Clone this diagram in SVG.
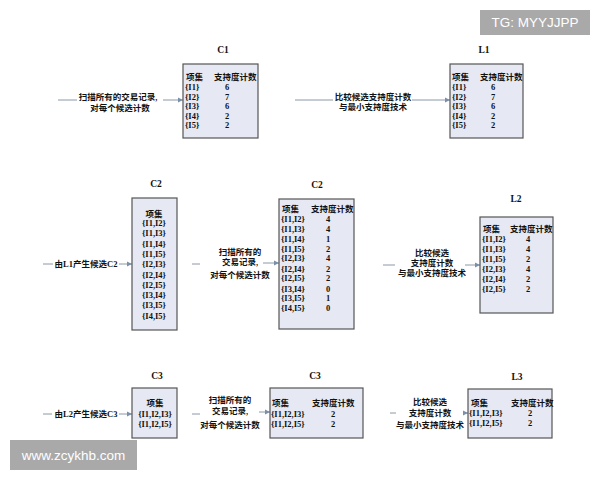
<svg xmlns="http://www.w3.org/2000/svg" width="600" height="480" viewBox="0 0 600 480">
<style>
.box{fill:#e6e9f3;stroke:#555;stroke-width:1.2}
.t{font-family:"Liberation Serif","Noto Sans CJK SC",serif;font-size:8.5px;font-weight:bold;fill:#111}
.c{text-anchor:middle}
.ttl{font-family:"Liberation Serif","Noto Sans CJK SC",serif;font-size:9.5px;font-weight:bold;fill:#111;text-anchor:middle}
.ln{stroke:#8a98a8;stroke-width:1;fill:none}
.ar{stroke:#8a98a8;stroke-width:1;fill:none;marker-end:url(#ah)}
.wm{fill:#a9a9a9}
.wt{font-family:"Liberation Sans","DejaVu Sans",sans-serif;font-size:13.5px;fill:#fff;text-anchor:middle}
</style>
<defs>
<marker id="ah" markerWidth="6" markerHeight="6" refX="5" refY="3" orient="auto" markerUnits="userSpaceOnUse">
<path d="M0,0.5 L5,3 L0,5.5 Z" fill="#7b90a8"/>
</marker>
</defs>
<rect width="600" height="480" fill="#fff"/>

<g id="connectors">
<line class="ln" x1="58" y1="100" x2="77" y2="100"/>
<text class="t c" x="118" y="100">扫描所有的交易记录,</text>
<text class="t c" x="120" y="111">对每个候选计数</text>
<line class="ar" x1="163" y1="100" x2="183" y2="100"/>

<line class="ln" x1="295" y1="100" x2="333" y2="100"/>
<text class="t c" x="373" y="100">比较候选支持度计数</text>
<text class="t c" x="373" y="110">与最小支持度技术</text>
<line class="ar" x1="412" y1="100" x2="450" y2="100"/>

<line class="ln" x1="43" y1="264" x2="53" y2="264"/>
<text class="t c" x="86" y="267">由L1产生候选C2</text>
<line class="ar" x1="119" y1="264" x2="132" y2="264"/>

<line class="ln" x1="192" y1="264" x2="200" y2="264"/>
<text class="t c" x="240" y="255">扫描所有的</text>
<text class="t c" x="240" y="265">交易记录,</text>
<text class="t c" x="240" y="278">对每个候选计数</text>
<line class="ar" x1="263" y1="263" x2="279" y2="263"/>

<line class="ln" x1="383" y1="265" x2="395" y2="265"/>
<text class="t c" x="432" y="256">比较候选</text>
<text class="t c" x="432" y="266">支持度计数</text>
<text class="t c" x="432" y="276">与最小支持度技术</text>
<line class="ar" x1="465" y1="265" x2="480" y2="265"/>

<line class="ln" x1="43" y1="414" x2="52" y2="414"/>
<text class="t c" x="86" y="417">由L2产生候选C3</text>
<line class="ar" x1="119" y1="414" x2="132" y2="414"/>

<line class="ln" x1="192" y1="414" x2="200" y2="414"/>
<text class="t c" x="230" y="403">扫描所有的</text>
<text class="t c" x="230" y="414">交易记录,</text>
<text class="t c" x="230" y="428">对每个候选计数</text>
<line class="ar" x1="259" y1="412" x2="270" y2="412"/>

<line class="ln" x1="390" y1="413" x2="396" y2="413"/>
<text class="t c" x="430" y="405">比较候选</text>
<text class="t c" x="430" y="416">支持度计数</text>
<text class="t c" x="430" y="428">与最小支持度技术</text>
<line class="ar" x1="463" y1="413" x2="468" y2="413"/>
</g>

<g id="C1">
<text class="ttl" x="223" y="53">C1</text>
<rect class="box" x="183" y="64" width="75" height="74"/>
<text class="t" x="186" y="80">项集</text><text class="t" x="214" y="80">支持度计数</text>
<text class="t" x="185" y="90">{I1}</text><text class="t c" x="227" y="90">6</text>
<text class="t" x="185" y="100">{I2}</text><text class="t c" x="227" y="100">7</text>
<text class="t" x="185" y="109">{I3}</text><text class="t c" x="227" y="109">6</text>
<text class="t" x="185" y="119">{I4}</text><text class="t c" x="227" y="119">2</text>
<text class="t" x="185" y="128">{I5}</text><text class="t c" x="227" y="128">2</text>
</g>

<g id="L1">
<text class="ttl" x="484" y="53">L1</text>
<rect class="box" x="450" y="64" width="73" height="74"/>
<text class="t" x="452" y="80">项集</text><text class="t" x="480" y="80">支持度计数</text>
<text class="t" x="452" y="90">{I1}</text><text class="t c" x="493" y="90">6</text>
<text class="t" x="452" y="100">{I2}</text><text class="t c" x="493" y="100">7</text>
<text class="t" x="452" y="109">{I3}</text><text class="t c" x="493" y="109">6</text>
<text class="t" x="452" y="119">{I4}</text><text class="t c" x="493" y="119">2</text>
<text class="t" x="452" y="128">{I5}</text><text class="t c" x="493" y="128">2</text>
</g>

<g id="C2a">
<text class="ttl" x="156" y="187">C2</text>
<rect class="box" x="132" y="198" width="45" height="132"/>
<text class="t c" x="154" y="217">项集</text>
<text class="t c" x="154" y="226">{I1,I2}</text>
<text class="t c" x="154" y="236">{I1,I3}</text>
<text class="t c" x="154" y="247">{I1,I4}</text>
<text class="t c" x="154" y="257">{I1,I5}</text>
<text class="t c" x="154" y="267">{I2,I3}</text>
<text class="t c" x="154" y="278">{I2,I4}</text>
<text class="t c" x="154" y="288">{I2,I5}</text>
<text class="t c" x="154" y="298">{I3,I4}</text>
<text class="t c" x="154" y="308">{I3,I5}</text>
<text class="t c" x="154" y="319">{I4,I5}</text>
</g>

<g id="C2b">
<text class="ttl" x="317" y="188">C2</text>
<rect class="box" x="279" y="199" width="75" height="130"/>
<text class="t" x="282" y="212">项集</text><text class="t" x="311" y="212">支持度计数</text>
<text class="t" x="281" y="222">{I1,I2}</text><text class="t c" x="328" y="222">4</text>
<text class="t" x="281" y="232">{I1,I3}</text><text class="t c" x="328" y="232">4</text>
<text class="t" x="281" y="242">{I1,I4}</text><text class="t c" x="328" y="242">1</text>
<text class="t" x="281" y="252">{I1,I5}</text><text class="t c" x="328" y="252">2</text>
<text class="t" x="281" y="261">{I2,I3}</text><text class="t c" x="328" y="261">4</text>
<text class="t" x="281" y="272">{I2,I4}</text><text class="t c" x="328" y="272">2</text>
<text class="t" x="281" y="281">{I2,I5}</text><text class="t c" x="328" y="281">2</text>
<text class="t" x="281" y="292">{I3,I4}</text><text class="t c" x="328" y="292">0</text>
<text class="t" x="281" y="301">{I3,I5}</text><text class="t c" x="328" y="301">1</text>
<text class="t" x="281" y="311">{I4,I5}</text><text class="t c" x="328" y="311">0</text>
</g>

<g id="L2">
<text class="ttl" x="516" y="202">L2</text>
<rect class="box" x="480" y="217" width="73" height="96"/>
<text class="t" x="483" y="232">项集</text><text class="t" x="510" y="232">支持度计数</text>
<text class="t" x="482" y="242">{I1,I2}</text><text class="t c" x="528" y="242">4</text>
<text class="t" x="482" y="252">{I1,I3}</text><text class="t c" x="528" y="252">4</text>
<text class="t" x="482" y="262">{I1,I5}</text><text class="t c" x="528" y="262">2</text>
<text class="t" x="482" y="272">{I2,I3}</text><text class="t c" x="528" y="272">4</text>
<text class="t" x="482" y="282">{I2,I4}</text><text class="t c" x="528" y="282">2</text>
<text class="t" x="482" y="292">{I2,I5}</text><text class="t c" x="528" y="292">2</text>
</g>

<g id="C3a">
<text class="ttl" x="157" y="379">C3</text>
<rect class="box" x="132" y="388" width="45" height="50"/>
<text class="t c" x="155" y="406">项集</text>
<text class="t c" x="155" y="417">{I1,I2,I3}</text>
<text class="t c" x="155" y="427">{I1,I2,I5}</text>
</g>

<g id="C3b">
<text class="ttl" x="315" y="379">C3</text>
<rect class="box" x="270" y="388" width="93" height="50"/>
<text class="t" x="272" y="406">项集</text><text class="t" x="312" y="406">支持度计数</text>
<text class="t" x="271" y="417">{I1,I2,I3}</text><text class="t c" x="333" y="417">2</text>
<text class="t" x="271" y="427">{I1,I2,I5}</text><text class="t c" x="333" y="427">2</text>
</g>

<g id="L3">
<text class="ttl" x="517" y="380">L3</text>
<rect class="box" x="468" y="389" width="84" height="49"/>
<text class="t" x="471" y="406">项集</text><text class="t" x="511" y="406">支持度计数</text>
<text class="t" x="469" y="416">{I1,I2,I3}</text><text class="t c" x="530" y="416">2</text>
<text class="t" x="469" y="426">{I1,I2,I5}</text><text class="t c" x="530" y="426">2</text>
</g>

<g id="watermarks">
<rect class="wm" x="480" y="10" width="110" height="25"/>
<text class="wt" x="535" y="27">TG: MYYJJPP</text>
<rect class="wm" x="10" y="440" width="127" height="30"/>
<text class="wt" x="73.5" y="460">www.zcykhb.com</text>
</g>
</svg>
